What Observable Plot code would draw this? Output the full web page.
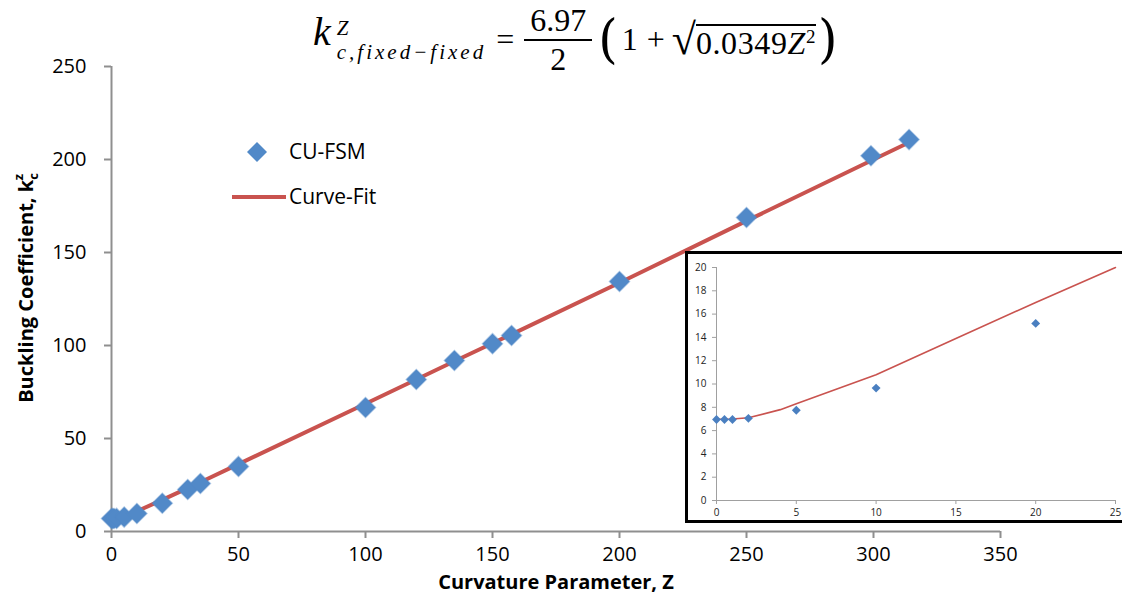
<!DOCTYPE html>
<html>
<head>
<meta charset="utf-8">
<script src="https://cdn.jsdelivr.net/npm/d3@7"></script>
<script src="https://cdn.jsdelivr.net/npm/@observablehq/plot@0.6"></script>
<style>
  html, body { margin:0; padding:0; background:#fff; width:1122px; height:598px; overflow:hidden; }
  #wrap { position:relative; width:1122px; height:598px; }
  #formula { position:absolute; left:313px; top:-1px; height:80px; display:flex; align-items:center;
             font-family:"Liberation Serif", serif; font-size:32px; color:#000; white-space:nowrap; }
  #formula .k { font-style:italic; font-size:40px; margin-top:-14px; line-height:40px; }
  #formula .ss { display:inline-flex; flex-direction:column; font-style:italic; font-size:21px; line-height:26px; margin-left:6px; margin-top:2px; }
  #formula .ss .sup { margin-bottom:-2px; }
  #formula .ss .sub { letter-spacing:3px; }
  #formula .op { margin:0 10px; }
  #formula .frac { display:inline-flex; flex-direction:column; align-items:center; line-height:31px; margin-top:2px; }
  #formula .frac .num { border-bottom:2px solid #000; padding:0 6px 3px 6px; }
  #formula .frac .den { padding-top:3px; }
  #formula .paren { font-size:50px; transform:scaleY(1.05); margin:0 4px 0 6px; font-family:"DejaVu Serif", serif; font-weight:200; }
  #formula .rad { font-size:44px; margin-left:-2px; }
  #formula .radicand { border-top:2px solid #000; padding-top:2px; margin-top:4px; line-height:31px; letter-spacing:0.6px; }
  #formula .radicand sup { font-size:19px; vertical-align:11px; line-height:0; }
  #inset { position:absolute; left:685px; top:251px; width:445px; height:272px; box-sizing:border-box;
           border:3px solid #000; background:#fff; overflow:hidden; }
</style>
</head>
<body>
<div id="wrap">
  <div id="chart"></div>
  <div id="formula">
    <span class="k">k</span>
    <span class="ss"><span class="sup">Z</span><span class="sub">c,fixed−fixed</span></span>
    <span class="op">=</span>
    <span class="frac"><span class="num">6.97</span><span class="den">2</span></span>
    <span class="paren">(</span><span>1</span><span class="op" style="margin:0 9px">+</span><span class="rad">√</span><span class="radicand">0.0349<i>Z</i><sup>2</sup></span><span class="paren" style="margin:0 0 0 2px">)</span>
  </div>
  <div id="inset"></div>
</div>
<script>
// ---- data ----
const zFSM = [0, 0.5, 1, 2, 5, 10, 20, 30, 35, 50, 100, 120, 135, 150, 157.5, 200, 250, 299, 314];
const kFSM = [6.95, 6.95, 6.95, 7.05, 7.75, 9.65, 15.2, 22.6, 25.8, 35, 66.7, 81.7, 91.9, 101, 105.4, 134.4, 168.8, 202, 210.7];

const zFit = [0, 1, 2, 5, 10, 20, 30, 35, 50, 100, 120, 135, 150, 157.5, 200, 250, 300, 316];
const kFit = [6.97, 7.0, 7.2, 8.3, 10.9, 17.0, 23.3, 26.5, 36.2, 68.7, 81.7, 91.5, 101.2, 106, 133.7, 167, 200, 210.5];

const zInsetFit = [0, 1, 2, 4, 5, 10, 15, 20, 25];
const kInsetFit = [6.97, 7.0, 7.1, 7.8, 8.3, 10.8, 13.9, 17.0, 20.0];

const xTicks = [0, 50, 100, 150, 200, 250, 300, 350];
const yTicks = [0, 50, 100, 150, 200, 250];
const insetXTicks = [0, 5, 10, 15, 20, 25];
const insetYTicks = [0, 2, 4, 6, 8, 10, 12, 14, 16, 18, 20];

const seriesNames = ["CU-FSM", "Curve-Fit"];
const xTitle = "Curvature Parameter, Z";

// ---- tables ----
const fsm = zFSM.map((z, i) => ({z, k: kFSM[i]}));
const fit = zFit.map((z, i) => ({z, k: kFit[i]}));
const insetFsm = fsm.filter(d => d.z <= 25);
const insetFit = zInsetFit.map((z, i) => ({z, k: kInsetFit[i]}));

const blue = "#5189C8";
const red = "#C9534F";
const axisGrey = "#8f8f8f";

const main = Plot.plot({
  width: 1122, height: 598,
  marginLeft: 111, marginRight: 122, marginTop: 66, marginBottom: 67,
  style: {fontFamily: "'Open Sans', sans-serif", fontSize: "20px", color: "#000", background: "transparent", overflow: "visible"},
  x: {domain: [0, 350]},
  y: {domain: [0, 250]},
  marks: [
    Plot.ruleX([0], {stroke: axisGrey, strokeWidth: 2}),
    Plot.ruleY([0], {stroke: axisGrey, strokeWidth: 2}),
    Plot.axisX({ticks: xTicks, tickSize: 7, tickPadding: 8, stroke: axisGrey, strokeWidth: 2, label: null, tickFormat: d => String(d)}),
    Plot.axisY({ticks: yTicks, tickSize: 7, tickPadding: 18, stroke: axisGrey, strokeWidth: 2, label: null, tickFormat: d => String(d)}),
    Plot.line(fit, {x: "z", y: "k", stroke: red, strokeWidth: 4}),
    Plot.dot(fsm, {x: "z", y: "k", symbol: "diamond2", r: 9, fill: blue, stroke: blue, strokeWidth: 1.5, strokeOpacity: 0.45}),
    Plot.text([xTitle], {frameAnchor: "bottom", dy: 57, fontWeight: "bold", fontSize: 20, fill: "#000"})
  ]
});
document.getElementById("chart").appendChild(main);

// y-axis title with subscript / superscript
const svg = d3.select(main);
const yt = svg.append("text")
  .attr("transform", "translate(33,288) rotate(-90)")
  .attr("text-anchor", "middle")
  .attr("font-family", "'Open Sans', sans-serif")
  .attr("font-weight", "bold")
  .attr("font-size", 20)
  .attr("fill", "#000");
yt.append("tspan").text("Buckling Coefficient, k");
yt.append("tspan").attr("font-size", 13).attr("dy", 5).text("c");
yt.append("tspan").attr("font-size", 13).attr("dy", -15).attr("dx", -7).text("z");

// legend
const lg = svg.append("g").attr("font-family", "'Open Sans', sans-serif").attr("font-size", 21)
  .attr("fill", "#000").attr("text-anchor", "start");
lg.append("path").attr("d", d3.symbol(d3.symbolDiamond2, Math.PI * 81)()).attr("transform", "translate(257,152)").attr("fill", blue);
lg.append("text").attr("x", 289).attr("y", 152).attr("dy", "0.35em").attr("text-anchor", "start").text(seriesNames[0]);
lg.append("line").attr("x1", 232).attr("x2", 286).attr("y1", 197).attr("y2", 197).attr("stroke", red).attr("stroke-width", 4);
lg.append("text").attr("x", 289).attr("y", 197).attr("dy", "0.35em").attr("text-anchor", "start").text(seriesNames[1]);

// inset
const inset = Plot.plot({
  width: 434, height: 266,
  marginLeft: 28, marginRight: 7, marginTop: 13, marginBottom: 20,
  style: {fontFamily: "'Open Sans', sans-serif", fontSize: "10px", color: "#222", background: "transparent", overflow: "visible"},
  x: {domain: [0, 25]},
  y: {domain: [0, 20]},
  marks: [
    Plot.ruleX([0], {stroke: "#a0a0a0", strokeWidth: 1}),
    Plot.ruleY([0], {stroke: "#a0a0a0", strokeWidth: 1}),
    Plot.axisX({ticks: insetXTicks, tickSize: 4, tickPadding: 4, stroke: "#a0a0a0", label: null, tickFormat: d => String(d)}),
    Plot.axisY({ticks: insetYTicks, tickSize: 4, tickPadding: 6, stroke: "#a0a0a0", label: null, tickFormat: d => String(d)}),
    Plot.line(insetFit, {x: "z", y: "k", stroke: red, strokeWidth: 1.6}),
    Plot.dot(insetFsm, {x: "z", y: "k", symbol: "diamond2", r: 4, fill: "#4A7FC0"})
  ]
});
document.getElementById("inset").appendChild(inset);
</script>
</body>
</html>
